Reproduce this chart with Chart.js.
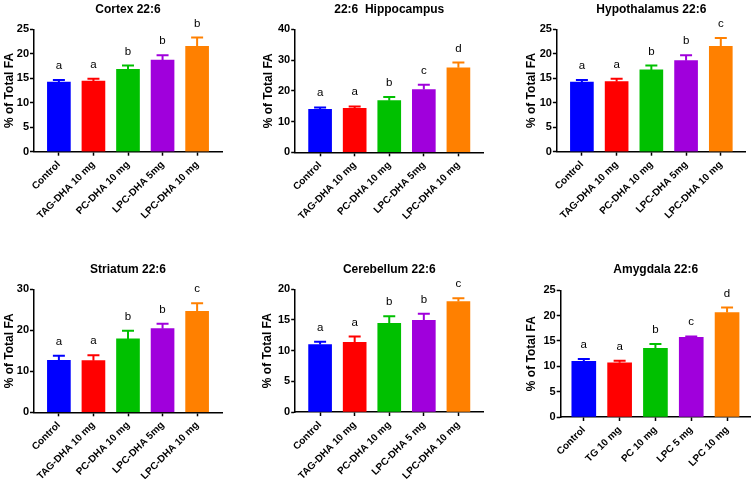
<!DOCTYPE html>
<html lang="en">
<head>
    <meta charset="UTF-8">
    <title>22:6 by brain region</title>
    <script src="https://cdnjs.cloudflare.com/ajax/libs/Chart.js/4.4.1/chart.umd.min.js"></script>
    <style>
        body {
            margin: 0;
            background: #fff;
            width: 755px;
            height: 479px;
            overflow: hidden;
        }
        canvas {
            position: absolute;
        }
    </style>
</head>
<body>
    <canvas id="cortex" width="250" height="240" style="left:0;top:0"></canvas>
    <canvas id="hippocampus" width="250" height="240" style="left:250px;top:0"></canvas>
    <canvas id="hypothalamus" width="255" height="240" style="left:500px;top:0"></canvas>
    <canvas id="striatum" width="250" height="239" style="left:0;top:240px"></canvas>
    <canvas id="cerebellum" width="250" height="239" style="left:250px;top:240px"></canvas>
    <canvas id="amygdala" width="255" height="239" style="left:500px;top:240px"></canvas>

    <script>
        // x axis groups
        const groups = ['Control', 'TAG-DHA 10 mg', 'PC-DHA 10 mg', 'LPC-DHA 5mg', 'LPC-DHA 10 mg'];
        const groupsCerebellum = ['Control', 'TAG-DHA 10 mg', 'PC-DHA 10 mg', 'LPC-DHA 5 mg', 'LPC-DHA 10 mg'];
        const groupsAmygdala = ['Control', 'TG 10 mg', 'PC 10 mg', 'LPC 5 mg', 'LPC 10 mg'];

        // mean, SEM, letters and y ticks for each region
        const cortexMean = [14.2, 14.4, 16.8, 18.7, 21.5];
        const cortexSem = [0.45, 0.5, 0.8, 1.0, 1.8];
        const cortexLetters = ['a', 'a', 'b', 'b', 'b'];
        const cortexTicks = [0, 5, 10, 15, 20, 25];

        const hippocampusMean = [14.0, 14.3, 16.8, 20.4, 27.5];
        const hippocampusSem = [0.6, 0.6, 1.2, 1.6, 1.7];
        const hippocampusLetters = ['a', 'a', 'b', 'c', 'd'];
        const hippocampusTicks = [0, 10, 20, 30, 40];

        const hypothalamusMean = [14.2, 14.3, 16.7, 18.6, 21.5];
        const hypothalamusSem = [0.45, 0.6, 0.9, 1.1, 1.7];
        const hypothalamusLetters = ['a', 'a', 'b', 'b', 'c'];
        const hypothalamusTicks = [0, 5, 10, 15, 20, 25];

        const striatumMean = [12.7, 12.6, 17.9, 20.4, 24.6];
        const striatumSem = [1.1, 1.3, 2.0, 1.2, 2.0];
        const striatumLetters = ['a', 'a', 'b', 'b', 'c'];
        const striatumTicks = [0, 10, 20, 30];

        const cerebellumMean = [11.0, 11.35, 14.45, 14.95, 18.0];
        const cerebellumSem = [0.45, 0.95, 1.15, 1.05, 0.55];
        const cerebellumLetters = ['a', 'a', 'b', 'b', 'c'];
        const cerebellumTicks = [0, 5, 10, 15, 20];

        const amygdalaMean = [11.0, 10.7, 13.55, 15.7, 20.6];
        const amygdalaSem = [0.45, 0.4, 0.85, 0.2, 1.0];
        const amygdalaLetters = ['a', 'a', 'b', 'c', 'd'];
        const amygdalaTicks = [0, 5, 10, 15, 20, 25];

        const font = 'Arial, "Liberation Sans", Helvetica, sans-serif';
        const barColors = ['#0000FF', '#FF0000', '#00C000', '#A000DC', '#FF8000'];

        // SEM whiskers + significance letters on top of the bars
        function errorBars(mean, sem, letters) {
            return {
                id: 'errorBars',
                afterDatasetsDraw(chart) {
                    const ctx = chart.ctx;
                    const y = chart.scales.y;
                    ctx.save();
                    chart.getDatasetMeta(0).data.forEach((bar, i) => {
                        const top = y.getPixelForValue(mean[i] + sem[i]);
                        ctx.strokeStyle = barColors[i];
                        ctx.lineWidth = 2;
                        ctx.beginPath();
                        ctx.moveTo(bar.x, bar.y);
                        ctx.lineTo(bar.x, top);
                        ctx.moveTo(bar.x - 6, top);
                        ctx.lineTo(bar.x + 6, top);
                        ctx.stroke();

                        ctx.fillStyle = '#000';
                        ctx.font = '11.5px ' + font;
                        ctx.textAlign = 'center';
                        ctx.textBaseline = 'alphabetic';
                        ctx.fillText(letters[i], bar.x, top - 11);
                    });
                    ctx.restore();
                }
            };
        }

        function makeChart(id, p) {
            const axisLine = { color: '#000', width: 1.5 };
            const tickMarks = { drawOnChartArea: false, offset: false, tickLength: 4, tickColor: '#000', tickWidth: 1.5 };

            new Chart(document.getElementById(id), {
                type: 'bar',
                data: {
                    datasets: [{
                        data: p.mean.map((v, i) => ({ x: i, y: v })),
                        backgroundColor: barColors,
                        barThickness: p.barWidth
                    }]
                },
                options: {
                    responsive: false,
                    animation: false,
                    devicePixelRatio: 1,
                    layout: { padding: { left: 0, right: p.padRight, top: 0, bottom: 0 } },
                    plugins: {
                        legend: { display: false },
                        tooltip: { enabled: false },
                        title: {
                            display: true,
                            text: p.title,
                            fullSize: false,
                            color: '#000',
                            font: { family: font, size: 12, weight: 'bold', lineHeight: 1 },
                            padding: { top: p.titleTop, bottom: p.titleBottom }
                        }
                    },
                    scales: {
                        x: {
                            type: 'linear',
                            offset: false,
                            min: p.xMin,
                            max: p.xMax,
                            afterBuildTicks: s => { s.ticks = p.labels.map((_, i) => ({ value: i })); },
                            afterFit: s => { s.height = p.xHeight; },
                            grid: tickMarks,
                            border: axisLine,
                            ticks: {
                                autoSkip: false,
                                minRotation: 45,
                                maxRotation: 45,
                                padding: 3,
                                color: '#000',
                                font: { family: font, size: 10, weight: 'bold' },
                                callback: v => p.labels[v]
                            }
                        },
                        y: {
                            min: 0,
                            max: p.ticks[p.ticks.length - 1],
                            afterBuildTicks: s => { s.ticks = p.ticks.map(v => ({ value: v })); },
                            afterFit: s => { s.width = p.yWidth; },
                            grid: tickMarks,
                            border: axisLine,
                            ticks: {
                                padding: 1,
                                color: '#000',
                                font: { family: font, size: 11, weight: 'bold' }
                            },
                            title: {
                                display: true,
                                text: '% of Total FA',
                                color: '#000',
                                font: { family: font, size: 12, weight: 'bold', lineHeight: 1 },
                                padding: { top: p.axisTitlePad, bottom: 0 }
                            }
                        }
                    }
                },
                plugins: [errorBars(p.mean, p.sem, p.letters)]
            });
        }

        makeChart('cortex', {
            title: 'Cortex 22:6', labels: groups, mean: cortexMean, sem: cortexSem,
            letters: cortexLetters, ticks: cortexTicks,
            xMin: -0.72, xMax: 4.72, barWidth: 23,
            yWidth: 34, padRight: 28, titleTop: 3.3, titleBottom: 14, xHeight: 88.3, axisTitlePad: 3.3
        });
        makeChart('hippocampus', {
            title: '22:6  Hippocampus', labels: groups, mean: hippocampusMean, sem: hippocampusSem,
            letters: hippocampusLetters, ticks: hippocampusTicks,
            xMin: -0.72, xMax: 4.72, barWidth: 23,
            yWidth: 45.2, padRight: 16.7, titleTop: 3.3, titleBottom: 14, xHeight: 87.7, axisTitlePad: 12.3
        });
        makeChart('hypothalamus', {
            title: 'Hypothalamus 22:6', labels: groups, mean: hypothalamusMean, sem: hypothalamusSem,
            letters: hypothalamusLetters, ticks: hypothalamusTicks,
            xMin: -0.72, xMax: 4.72, barWidth: 23,
            yWidth: 56.9, padRight: 9.2, titleTop: 3.3, titleBottom: 14, xHeight: 88.3, axisTitlePad: 25.7
        });
        makeChart('striatum', {
            title: 'Striatum 22:6', labels: groups, mean: striatumMean, sem: striatumSem,
            letters: striatumLetters, ticks: striatumTicks,
            xMin: -0.72, xMax: 4.72, barWidth: 23,
            yWidth: 34, padRight: 28, titleTop: 23.3, titleBottom: 14, xHeight: 66.7, axisTitlePad: 3.3
        });
        makeChart('cerebellum', {
            title: 'Cerebellum 22:6', labels: groupsCerebellum, mean: cerebellumMean, sem: cerebellumSem,
            letters: cerebellumLetters, ticks: cerebellumTicks,
            xMin: -0.72, xMax: 4.72, barWidth: 23,
            yWidth: 45.2, padRight: 16.7, titleTop: 23.3, titleBottom: 14, xHeight: 67, axisTitlePad: 12
        });
        makeChart('amygdala', {
            title: 'Amygdala 22:6', labels: groupsAmygdala, mean: amygdalaMean, sem: amygdalaSem,
            letters: amygdalaLetters, ticks: amygdalaTicks,
            xMin: -0.645, xMax: 4.66, barWidth: 24,
            yWidth: 60.7, padRight: 4.3, titleTop: 23.3, titleBottom: 15, xHeight: 62, axisTitlePad: 25.7
        });
    </script>
</body>
</html>
